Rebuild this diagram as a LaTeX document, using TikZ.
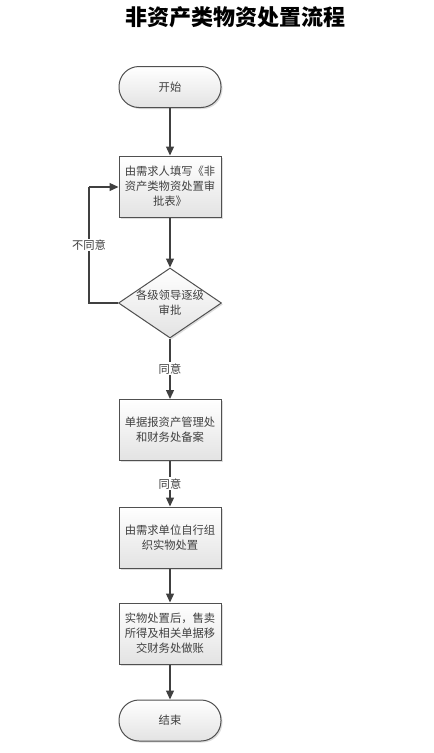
\documentclass[tikz,border=0pt]{standalone}
\usepackage{fontspec}
\newfontfamily\cjk{Noto Sans CJK SC}
\usetikzlibrary{arrows.meta,shapes.geometric,shadows}
\definecolor{linec}{HTML}{404040}
\definecolor{bordc}{HTML}{505050}
\definecolor{txtc}{HTML}{404040}
\begin{document}
\begin{tikzpicture}[x=1pt,y=-1pt,
  every node/.style={font=\cjk\fontsize{11.3}{15}\selectfont, text=txtc},
  boxbase/.style={draw=bordc, line width=1pt, top color=white, bottom color=gray!22,
    drop shadow={shadow xshift=1.5pt, shadow yshift=-1.5pt, fill=gray!45, opacity=0.6}},
  procbox/.style={boxbase, rectangle, minimum width=102pt, minimum height=61pt,
    align=center, inner sep=0pt},
  termbox/.style={boxbase, rectangle, rounded corners=20pt, minimum width=102pt,
    minimum height=41pt, inner sep=0pt},
  decbox/.style={boxbase, diamond, minimum width=103pt, minimum height=70pt, inner sep=0pt},
  conn/.style={draw=linec, line width=1.3pt, -{Triangle[length=9pt,width=8pt]}},
  plainline/.style={draw=linec, line width=1.3pt},
  lbl/.style={fill=white, inner sep=1pt}
]
\useasboundingbox (0,0) rectangle (434,753);
\node[font=\cjk\bfseries\fontsize{22}{26}\selectfont, text=black] (title) at (235,17) {非资产类物资处置流程};

\node[termbox] (start) at (170,87) {开始};
\node[procbox] (b1) at (170,186.5) {由需求人填写《非\\资产类物资处置审\\批表》};
\node[decbox] (dia) at (170,303) {};
\node[align=center, inner sep=0pt] (diat) at (170,303) {各级领导逐级\\审批};
\node[procbox] (b2) at (170,430) {单据报资产管理处\\和财务处备案};
\node[procbox] (b3) at (170,537.5) {由需求单位自行组\\织实物处置};
\node[procbox] (b4) at (170,633.5) {实物处置后，售卖\\所得及相关单据移\\交财务处做账};
\node[termbox] (end) at (170,720.5) {结束};

\coordinate (loopbot) at (89,303);
\coordinate (looptop) at (89,187);

\draw[conn] (start) -- (b1);
\draw[conn] (b1) -- (dia);
\draw[plainline] (dia.west) -- (loopbot) -- (looptop);
\draw[conn] (looptop) -- (b1.west |- looptop);
\node[lbl] (l0) at (89,245) {不同意};
\draw[conn] (dia) -- node[lbl] (l1) {同意} (b2);
\draw[conn] (b2) -- node[lbl] (l2) {同意} (b3);
\draw[conn] (b3) -- (b4);
\draw[conn] (b4) -- (end);
\end{tikzpicture}
\end{document}
